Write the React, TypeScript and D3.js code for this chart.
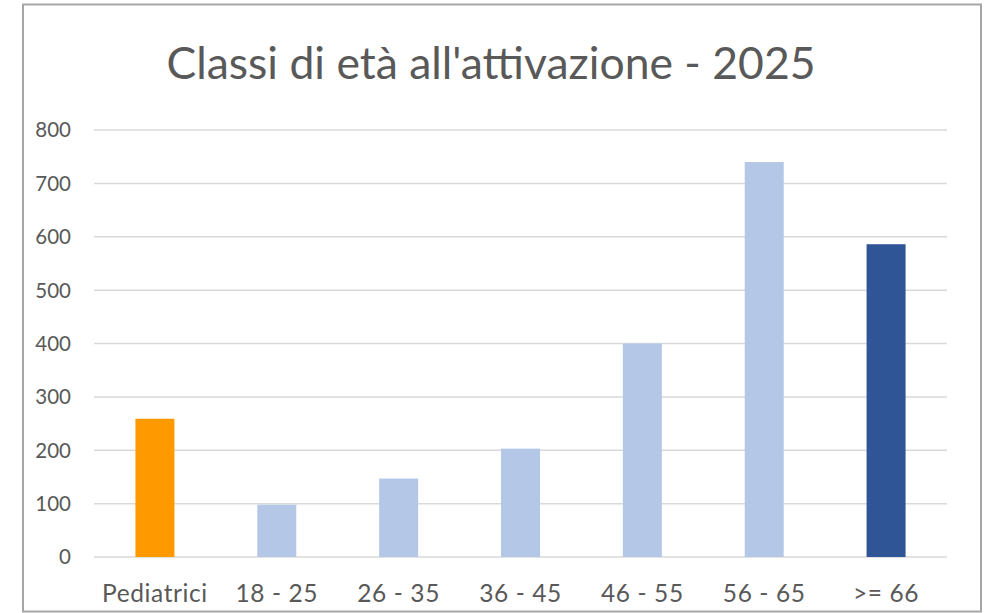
import * as d3 from 'd3';

// dati
const categories = ['Pediatrici', '18 - 25', '26 - 35', '36 - 45', '46 - 55', '56 - 65', '>= 66'];
const values = [259, 98, 147, 203, 400, 740, 586];
const barColors = ['#FF9900', '#B4C7E7', '#B4C7E7', '#B4C7E7', '#B4C7E7', '#B4C7E7', '#2F5597'];
const yTicks = [0, 100, 200, 300, 400, 500, 600, 700, 800];
const title = "Classi di età all'attivazione - 2025";

const W = 986;
const H = 613;
const plot = { left: 94, right: 947, top: 130, bottom: 557 };
const font = 'Lato, "Open Sans", sans-serif';
const textColor = '#595959';

export default function App() {
  const x = d3.scaleBand<string>()
    .domain(categories)
    .range([plot.left, plot.right])
    .paddingInner(0.68)
    .paddingOuter(0.34);

  const y = d3.scaleLinear()
    .domain([0, 800])
    .range([plot.bottom, plot.top]);

  return (
    <svg width={W} height={H} style={{ position: 'absolute', left: 0, top: 0 }}>
      <rect x={0} y={0} width={W} height={H} fill="#fff" />
      <rect x={23} y={4.5} width={958} height={607} fill="#fff" stroke="#A6A6A6" strokeWidth={2} />

      <text x={491} y={79} textAnchor="middle" fontFamily={font} fontSize={44.5}
        fill={textColor}>
        {title}
      </text>

      {yTicks.map(t => (
        <g key={t}>
          <line x1={plot.left} x2={plot.right} y1={y(t)} y2={y(t)} stroke="#D9D9D9" strokeWidth={1.5} />
          <text x={71} y={y(t)} dy="0.36em" textAnchor="end" fontFamily={font} fontSize={20.5}
            fill={textColor}>
            {t}
          </text>
        </g>
      ))}

      {categories.map((c, i) => (
        <rect
          key={c}
          x={x(c)}
          y={y(values[i])}
          width={x.bandwidth()}
          height={y(0) - y(values[i])}
          fill={barColors[i]}
        />
      ))}

      {categories.map(c => (
        <text
          key={c}
          x={(x(c) ?? 0) + x.bandwidth() / 2}
          y={602}
          textAnchor="middle"
          fontFamily={font}
          fontSize={24.5}
          letterSpacing={0.6}
          fill={textColor}
        >
          {c}
        </text>
      ))}
    </svg>
  );
}
